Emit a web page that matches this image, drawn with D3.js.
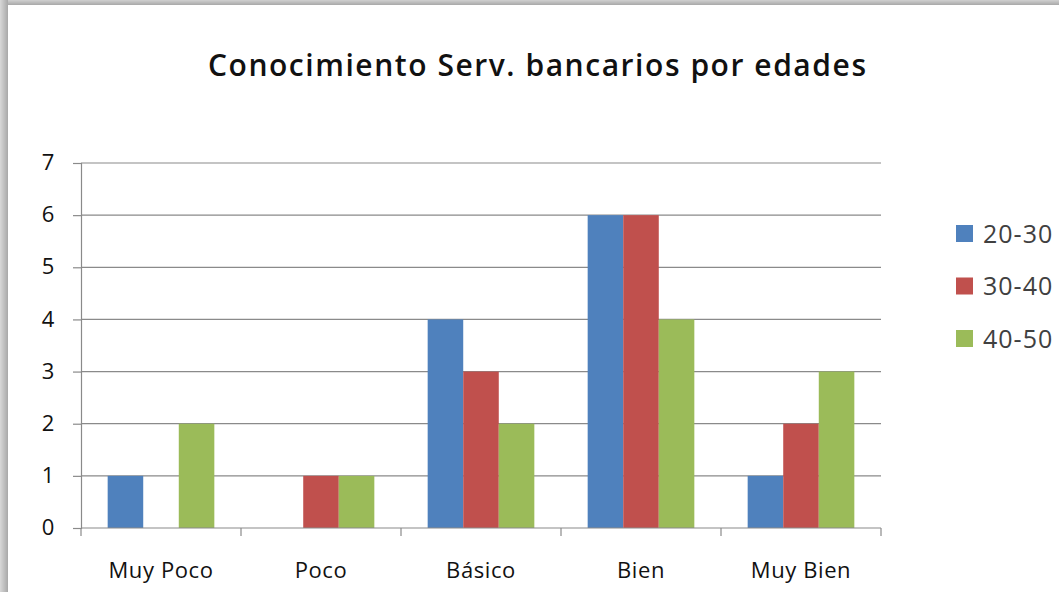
<!DOCTYPE html>
<html><head><meta charset="utf-8">
<script src="https://cdn.jsdelivr.net/npm/d3@7"></script>
<style>html,body{margin:0;padding:0;background:#fff;overflow:hidden}</style>
</head><body>
<svg id="c" width="1059" height="592"></svg>
<script>
const title = "Conocimiento Serv. bancarios por edades";
const categories = ["Muy Poco", "Poco", "Básico", "Bien", "Muy Bien"];
const seriesNames = ["20-30", "30-40", "40-50"];
const s2030 = [1, 0, 4, 6, 1];
const s3040 = [0, 1, 3, 6, 2];
const s4050 = [2, 1, 2, 4, 3];
const yTicks = [0, 1, 2, 3, 4, 5, 6, 7];
const colors = ["#4F81BD", "#C0504D", "#9BBB59"];
const seriesValues = [s2030, s3040, s4050];

const svg = d3.select("#c");
const font = "'Open Sans', 'Noto Sans', sans-serif";

// frame
const defs = svg.append("defs");
const gl = defs.append("linearGradient").attr("id","gl").attr("x1","0").attr("x2","1").attr("y1","0").attr("y2","0");
gl.append("stop").attr("offset","0").attr("stop-color","#d8d8d8");
gl.append("stop").attr("offset","1").attr("stop-color","#a8a8a8");
const gt = defs.append("linearGradient").attr("id","gt").attr("x1","0").attr("x2","0").attr("y1","0").attr("y2","1");
gt.append("stop").attr("offset","0").attr("stop-color","#d0d0d0");
gt.append("stop").attr("offset","1").attr("stop-color","#a8a8a8");
svg.append("rect").attr("x",0).attr("y",0).attr("width",1059).attr("height",5).attr("fill","url(#gt)");
svg.append("rect").attr("x",0).attr("y",0).attr("width",8).attr("height",592).attr("fill","url(#gl)");

const pL = 81, pR = 881, pT = 163, pB = 528;
const x = d3.scaleBand().domain(categories).range([pL, pR]).paddingInner(0).paddingOuter(0);
const y = d3.scaleLinear().domain([0, 7]).range([pB, pT]);
const barW = x.bandwidth() / 4.5;
const xs = d3.scaleBand().domain(seriesNames).range([0, barW * 3]);

// gridlines
svg.append("g").selectAll("line").data(yTicks.filter(d => d > 0)).join("line")
  .attr("x1", pL).attr("x2", pR)
  .attr("y1", d => y(d)).attr("y2", d => y(d))
  .attr("stroke", "#8a8a8a").attr("stroke-width", 1.2);

// bars
seriesNames.forEach((s, si) => {
  svg.append("g").selectAll("rect").data(categories.map((c, i) => ({c, v: seriesValues[si][i]}))).join("rect")
    .attr("x", d => x(d.c) + (x.bandwidth() - barW * 3) / 2 + xs(s))
    .attr("width", barW)
    .attr("y", d => y(d.v))
    .attr("height", d => y(0) - y(d.v))
    .attr("fill", colors[si]);
});

// y axis
const yAxis = svg.append("g").attr("transform", `translate(${pL},0)`)
  .call(d3.axisLeft(y).tickValues(yTicks).tickSize(8).tickPadding(18).tickFormat(d3.format("d")));
yAxis.select(".domain").attr("stroke", "#8a8a8a").attr("stroke-width", 1.2);
yAxis.selectAll(".tick line").attr("stroke", "#8a8a8a").attr("stroke-width", 1.2);
yAxis.selectAll("text").attr("font-family", font).attr("font-size", 22).attr("fill", "#111")
  .attr("text-anchor","middle").attr("x", -33).attr("dy", "0.3em");

// x axis
const xAxis = svg.append("g").attr("transform", `translate(0,${pB})`)
  .call(d3.axisBottom(x).tickSize(0).tickPadding(34));
xAxis.select(".domain").attr("stroke", "#8a8a8a").attr("stroke-width", 1.2).attr("d", `M${pL},0H${pR}`);
xAxis.selectAll("text").attr("font-family", font).attr("font-size", 22).attr("letter-spacing", "0.6px").attr("fill", "#111");
// category boundary ticks
svg.append("g").selectAll("line").data(categories.map(c => x(c)).concat([pR])).join("line")
  .attr("x1", d => d).attr("x2", d => d).attr("y1", pB).attr("y2", pB + 8)
  .attr("stroke", "#8a8a8a").attr("stroke-width", 1.2);

// title
svg.append("text").attr("x", 537).attr("y", 76).attr("text-anchor", "middle")
  .attr("font-family", font).attr("font-weight", 600).attr("font-size", 30).attr("fill", "#111")
  .attr("textLength", 658).attr("lengthAdjust", "spacing")
  .text(title);

// legend
const lg = svg.append("g");
seriesNames.forEach((s, i) => {
  const cy = 233 + i * 52.5;
  lg.append("rect").attr("x", 956).attr("y", cy - 8).attr("width", 17).attr("height", 17).attr("fill", colors[i]);
  lg.append("text").attr("x", 983).attr("y", cy).attr("dy", "0.38em")
    .attr("font-family", font).attr("font-size", 25).attr("letter-spacing", "1px").attr("fill", "#404040").text(s);
});
</script>
</body></html>
